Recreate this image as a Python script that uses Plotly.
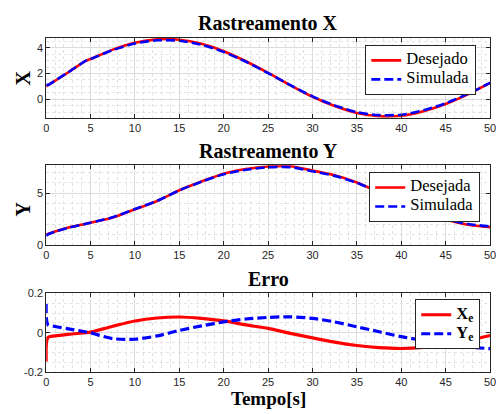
import plotly.graph_objects as go

# time samples (s)
t = [0, 0.2, 1, 2.5, 4.5, 5, 7.5, 10, 12.5, 15, 17.5, 20, 22.5, 25, 27.5,
     30, 32.5, 35, 37.5, 40, 42.5, 45, 47.5, 50]

# Rastreamento X
x_des = [1.0, 1.09, 1.44, 2.1, 3.0, 3.12, 3.85, 4.38, 4.65, 4.62, 4.3, 3.73,
         2.95, 2.05, 1.1, 0.2, -0.52, -1.05, -1.3, -1.27, -0.92, -0.36, 0.38, 1.27]
x_sim = [1.15, 1.12, 1.46, 2.11, 3.0, 3.12, 3.82, 4.32, 4.58, 4.54, 4.23, 3.67,
         2.91, 2.03, 1.1, 0.23, -0.47, -0.99, -1.22, -1.19, -0.85, -0.3, 0.42, 1.28]

# Rastreamento Y
y_des = [1.0, 1.06, 1.3, 1.68, 2.05, 2.15, 2.65, 3.45, 4.25, 5.3, 6.15, 6.9,
         7.35, 7.6, 7.62, 7.2, 6.75, 6.05, 5.1, 4.1, 3.2, 2.45, 1.95, 1.72]
y_sim = [0.86, 1.02, 1.28, 1.66, 2.05, 2.15, 2.68, 3.48, 4.27, 5.29, 6.12, 6.85,
         7.28, 7.52, 7.54, 7.13, 6.69, 6.02, 5.09, 4.12, 3.24, 2.51, 2.02, 1.8]

# Erro
x_err = [-0.146, -0.024, -0.016, -0.008, 0.0, 0.003, 0.033, 0.06, 0.075, 0.08,
         0.073, 0.06, 0.04, 0.022, -0.003, -0.026, -0.048, -0.065, -0.076, -0.08,
         -0.074, -0.06, -0.04, -0.014]
y_err = [0.146, 0.04, 0.032, 0.02, 0.004, 0.0, -0.03, -0.033, -0.016, 0.012,
         0.035, 0.055, 0.07, 0.078, 0.081, 0.073, 0.055, 0.03, 0.005, -0.02,
         -0.04, -0.06, -0.072, -0.081]

xticks = [0, 5, 10, 15, 20, 25, 30, 35, 40, 45, 50]

RED = "#ff0000"
BLUE = "#0000ff"
SERIF = "Liberation Serif"
SANS = "Liberation Sans"
W, H = 498, 414

fig = go.Figure()

def lab(s):
    return '<span style="font-size:16.5px">%s</span>' % s

def add_pair(xa, ya, a, b, na, nb, leg, width):
    fig.add_trace(go.Scatter(x=t, y=a, mode="lines", name=lab(na), xaxis=xa, yaxis=ya,
                             legend=leg, line=dict(color=RED, width=width, shape="spline", smoothing=0.8)))
    fig.add_trace(go.Scatter(x=t, y=b, mode="lines", name=lab(nb), xaxis=xa, yaxis=ya,
                             legend=leg, line=dict(color=BLUE, width=width, dash="9px,4px",
                                                   shape="spline", smoothing=0.8)))

add_pair("x", "y", x_des, x_sim, "Desejado", "Simulada", "legend", 2.6)
add_pair("x2", "y2", y_des, y_sim, "Desejada", "Simulada", "legend2", 2.6)
add_pair("x3", "y3", x_err, y_err, "<b>X<sub>e</sub></b>", "<b>Y<sub>e</sub></b>", "legend3", 3.2)

def py(px):
    return 1 - px / H

xdom = [44 / W, 496 / W]
doms = [(33, 115), (164, 246), (296, 377)]

axis_common = dict(
    showline=True, linecolor="#262626", linewidth=1, mirror="ticks",
    ticks="inside", ticklen=4, tickcolor="#262626",
    showgrid=True, gridcolor="#dcdcdc", gridwidth=1, zeroline=False,
    tickfont=dict(family=SANS, size=11, color="#262626"),
    ticklabeloverflow="allow",
)

for i in range(3):
    sfx = "" if i == 0 else str(i + 1)
    fig.layout["xaxis" + sfx] = dict(
        domain=xdom, range=[0, 50], anchor="y" + sfx, tickvals=xticks,
        minor=dict(dtick=1, showgrid=True, gridcolor="#e2e2e2", griddash="dot", ticks=""),
        **axis_common)

fig.layout["yaxis"] = dict(domain=[py(doms[0][1]), py(doms[0][0])], range=[-1.42, 4.75],
                           anchor="x", tickvals=[0, 2, 4],
                           minor=dict(dtick=0.5, showgrid=True, gridcolor="#e2e2e2", griddash="dot", ticks=""),
                           **axis_common)
fig.layout["yaxis2"] = dict(domain=[py(doms[1][1]), py(doms[1][0])], range=[0, 7.72],
                            anchor="x2", tickvals=[0, 5],
                            minor=dict(dtick=1, showgrid=True, gridcolor="#e2e2e2", griddash="dot", ticks=""),
                            **axis_common)
fig.layout["yaxis3"] = dict(domain=[py(doms[2][1]), py(doms[2][0])], range=[-0.2, 0.2],
                            anchor="x3", tickvals=[-0.2, 0, 0.2], ticktext=["-0.2", "0", "0.2"],
                            minor=dict(dtick=0.05, showgrid=True, gridcolor="#e2e2e2", griddash="dot", ticks=""),
                            **axis_common)

leg_common = dict(bgcolor="white", bordercolor="#262626", borderwidth=1,
                  font=dict(family=SERIF, size=10, color="black"),
                  xanchor="right", yanchor="top", tracegroupgap=0)
fig.layout["legend"] = dict(x=482 / W, y=py(40), **leg_common)
fig.layout["legend2"] = dict(x=486 / W, y=py(171), **leg_common)
fig.layout["legend3"] = dict(x=486 / W, y=py(302), **leg_common)

ann = []
def text(x, y, s, size=20, angle=0):
    ann.append(dict(x=x / W, y=py(y), xref="paper", yref="paper", text="<b>%s</b>" % s,
                    showarrow=False, textangle=angle, xanchor="center", yanchor="middle",
                    font=dict(family=SERIF, size=size, color="black")))

text(270, 18, "Rastreamento X")
text(270, 149, "Rastreamento Y")
text(270, 281, "Erro")
text(20, 74, "X", angle=-90)
text(20, 209, "Y", angle=-90)
text(270, 404, "Tempo[s]", size=19)

fig.update_layout(width=W, height=H, margin=dict(l=0, r=0, t=0, b=0),
                  paper_bgcolor="white", plot_bgcolor="white", annotations=ann,
                  showlegend=True)

fig.write_html("out.html")
